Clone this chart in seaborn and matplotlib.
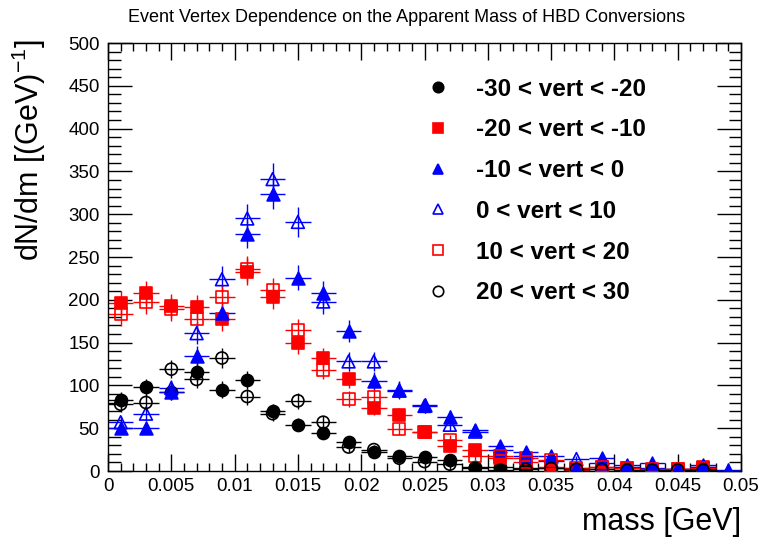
import numpy as np
import pandas as pd
import matplotlib
matplotlib.use("Agg")
import matplotlib.pyplot as plt
import seaborn as sns
from matplotlib.lines import Line2D
from matplotlib.ticker import MultipleLocator, FuncFormatter

# ---- data -------------------------------------------------------------
mass = [0.001, 0.003, 0.005, 0.007, 0.009, 0.011, 0.013, 0.015, 0.017, 0.019,
        0.021, 0.023, 0.025, 0.027, 0.029, 0.031, 0.033, 0.035, 0.037, 0.039,
        0.041, 0.043, 0.045, 0.047, 0.049]
half_width = 0.001

vert_m30_m20 = [83, 98, 92, 116, 95, 106, 70, 54, 44, 34, 22, 17.5, 16, 13, 5,
                5, 4, 4, 2, 2, 1, 1, 1, 2, 0]
vert_m20_m10 = [196, 208, 193, 192, 177, 233, 203, 149, 132, 107, 74, 66, 45, 29,
                24, 15, 15, 5, 1, 5, 3, 1, 2, 5, 0]
vert_m10_0 = [50, 50, 92, 134, 184, 277, 324, 226, 208, 164, 105, 95, 77, 63, 48,
              29, 22, 18, 3, 15, 7, 9, 2, 7, 1]
vert_0_10 = [57, 67, 97, 161, 224, 295, 341, 291, 198, 128, 128, 94, 76, 54, 46,
             24, 17, 12, 14, 9, 5, 4, 2, 5, 0]
vert_10_20 = [183, 197, 189, 178, 203, 236, 211, 165, 118, 84, 86, 49, 45, 36, 17,
              17, 11, 13, 3, 5, 3, 2, 2, 4, 0]
vert_20_30 = [78, 80, 119, 107, 132, 87, 67, 82, 57, 28, 25, 15, 11, 8, 3, 1, 2,
              3, 2, 2, 1, 1, 1, 1, 0]

series_labels = ["-30 < vert < -20", "-20 < vert < -10", "-10 < vert < 0",
                 "0 < vert < 10", "10 < vert < 20", "20 < vert < 30"]
series_values = [vert_m30_m20, vert_m20_m10, vert_m10_0, vert_0_10, vert_10_20, vert_20_30]

x_ticks = [0, 0.005, 0.01, 0.015, 0.02, 0.025, 0.03, 0.035, 0.04, 0.045, 0.05]
y_ticks = [0, 50, 100, 150, 200, 250, 300, 350, 400, 450, 500]

title = "Event Vertex Dependence on the Apparent Mass of HBD Conversions"
xlabel = "mass [GeV]"
ylabel = r"dN/dm [(GeV)$^{\mathregular{-1}}$]"

# ---- styles -----------------------------------------------------------
styles = [
    dict(color="black", marker="o", filled=True),
    dict(color="#ff0000", marker="s", filled=True),
    dict(color="#0000ff", marker="^", filled=True),
    dict(color="#0000ff", marker="^", filled=False),
    dict(color="#ff0000", marker="s", filled=False),
    dict(color="black", marker="o", filled=False),
]

sns.set_theme(style="ticks")
plt.rcParams["font.family"] = ["Liberation Sans", "DejaVu Sans"]
plt.rcParams["mathtext.fontset"] = "custom"
plt.rcParams["mathtext.rm"] = "Liberation Sans"
for key in ["text.color", "axes.labelcolor", "xtick.color", "ytick.color",
            "axes.edgecolor"]:
    plt.rcParams[key] = "black"

fig = plt.figure(figsize=(7.65, 5.43), dpi=100)
ax = fig.add_axes([108 / 765, 1 - 471 / 543, (741 - 108) / 765, (471 - 43) / 543])

rows = []
for lab, vals in zip(series_labels, series_values):
    for m, v in zip(mass, vals):
        rows.append(dict(series=lab, mass=m, value=v))
df = pd.DataFrame(rows)
df = df[df["value"] > 0]

for lab, st in zip(series_labels, styles):
    d = df[df["series"] == lab]
    ax.errorbar(d["mass"], d["value"], xerr=half_width, yerr=np.sqrt(d["value"]),
                fmt="none", ecolor=st["color"], elinewidth=1.0, capsize=0, zorder=2)
    sns.scatterplot(data=d, x="mass", y="value", ax=ax, marker=st["marker"],
                    s=75 if st["marker"] != "^" else 85,
                    facecolor=st["color"] if st["filled"] else "none",
                    edgecolor=st["color"], linewidth=1.2, zorder=3, legend=False)

ax.set_xlim(0, 0.05)
ax.set_ylim(0, 500)
ax.set_xticks(x_ticks)
ax.set_yticks(y_ticks)
ax.xaxis.set_major_formatter(FuncFormatter(lambda v, p: "{:g}".format(round(v, 4))))
ax.xaxis.set_minor_locator(MultipleLocator(0.001))
ax.yaxis.set_minor_locator(MultipleLocator(10))
ax.tick_params(axis="both", which="both", direction="in", top=True, right=True,
               colors="black", labelcolor="black", labelsize=13.5, width=1)
ax.tick_params(axis="y", which="major", length=17, pad=6)
ax.tick_params(axis="y", which="minor", length=9)
ax.tick_params(axis="x", which="major", length=12, pad=5)
ax.tick_params(axis="x", which="minor", length=6)
for sp in ax.spines.values():
    sp.set_visible(True)
    sp.set_color("black")
    sp.set_linewidth(1)

ax.set_xlabel(xlabel, fontsize=22, loc="right", color="black")
ax.set_ylabel(ylabel, fontsize=22, loc="top", color="black")
ax.xaxis.set_label_coords(1.0, -0.085)
ax.yaxis.set_label_coords(-0.095, 1.01)
fig.text(407 / 765, 1 - 17 / 543, title, ha="center", va="center", fontsize=13,
         color="black")

handles = []
for lab, st in zip(series_labels, styles):
    handles.append(Line2D([], [], linestyle="none", marker=st["marker"], markersize=7.5,
                          markerfacecolor=st["color"] if st["filled"] else "none",
                          markeredgecolor=st["color"], markeredgewidth=1.2, label=lab))
leg = ax.legend(handles=handles, loc="upper left", bbox_to_anchor=(0.464, 0.970),
                frameon=False, prop=dict(weight="bold", size=17.5),
                labelspacing=0.73, handletextpad=0.96, handlelength=1.2,
                labelcolor="black")

fig.savefig("out.png", dpi=100)
